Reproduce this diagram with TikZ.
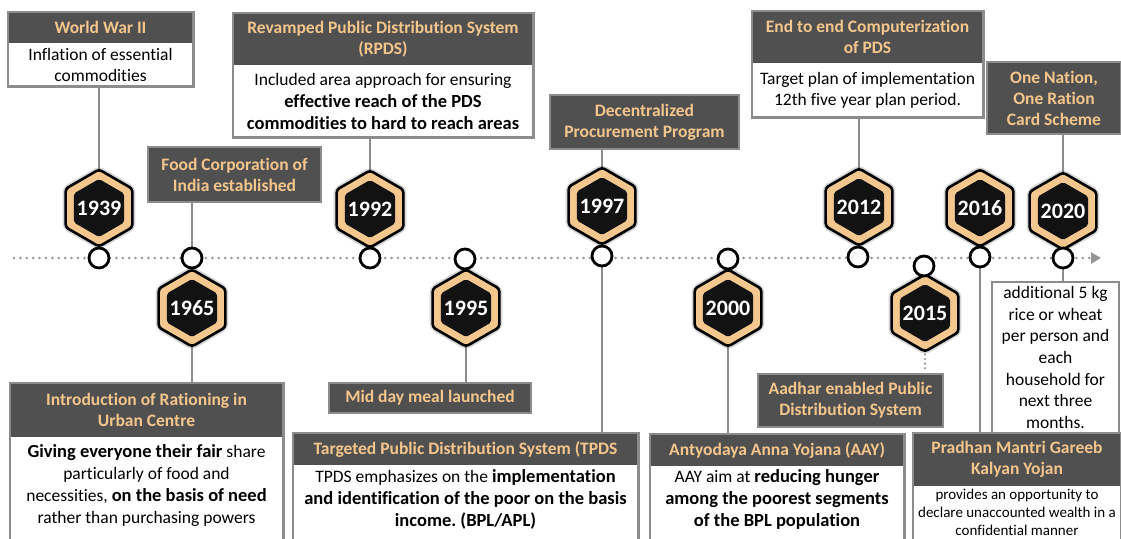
\documentclass[tikz,border=0pt]{standalone}
\usepackage{fontspec}
\setmainfont{Carlito}[Ligatures=NoCommon]
\usetikzlibrary{shapes.geometric,arrows.meta}
\frenchspacing

\definecolor{hdrgray}{HTML}{505050}
\definecolor{sand}{HTML}{F5C68C}
\definecolor{hexfill}{HTML}{F4C78E}
\definecolor{framegray}{HTML}{8C8C8C}
\definecolor{dotgray}{HTML}{969696}

\newcommand\hfont{\fontsize{17.5}{21}\selectfont\bfseries}
\newcommand\bfont{\fontsize{17.5}{21.7}\selectfont}
\newcommand\sfont{\fontsize{15}{17.8}\selectfont}
\newcommand\bld[1]{{\fontsize{18.5}{21.7}\selectfont\bfseries #1}}

\tikzset{
  hdr/.style={fill=hdrgray, text=sand, font=\hfont, align=center, inner sep=0pt},
  tag/.style={hdr, draw=framegray, line width=2.6pt},
  txt/.style={text=black, font=\bfont, align=center, inner sep=0pt},
  frame/.style={draw=framegray, line width=2.6pt},
  conn/.style={draw=framegray, line width=2.6pt},
  dotconn/.style={draw=dotgray, line width=2.4pt, line cap=round, dash pattern=on 0pt off 4.6pt},
  hexsh/.style={regular polygon, regular polygon sides=6, shape border rotate=30,
    minimum size=84pt, inner sep=0pt, fill=black, opacity=0.16, rounded corners=5pt},
  hexout/.style={regular polygon, regular polygon sides=6, shape border rotate=30,
    minimum size=77pt, inner sep=0pt, fill=hexfill, draw=black, line width=2.6pt, rounded corners=3pt},
  hexin/.style={regular polygon, regular polygon sides=6, shape border rotate=30,
    minimum size=58pt, inner sep=0pt, fill=black!93, rounded corners=2pt},
  yeartxt/.style={text=white, font=\fontsize{22}{22}\selectfont\bfseries, inner sep=0pt},
  stop/.style={circle, minimum size=20pt, inner sep=0pt, fill=white, draw=black, line width=2.8pt},
}

% one year badge: shadow, tan hexagon, black core, year label
\newcommand\yearhex[3]{%
  \node[hexsh]  (#1s) at (#2) {};
  \node[hexout] (#1)  at (#2) {};
  \node[hexin]  (#1i) at (#2) {};
  \node[yeartxt] (#1t) at (#2) {#3};
}

\begin{document}
\begin{tikzpicture}[x=1pt,y=-1pt]
\useasboundingbox (0,0) rectangle (1121,538);
\clip (0,0) rectangle (1121,538);
\coordinate (floor) at (0,570);

% positions of hexagons and stops
\coordinate (p1939) at (99,208);   \coordinate (c1939) at (99,258);
\coordinate (p1965) at (192,308);  \coordinate (c1965) at (192,258);
\coordinate (p1992) at (370,209);  \coordinate (c1992) at (370,258);
\coordinate (p1995) at (466,308);  \coordinate (c1995) at (465,259);
\coordinate (p1997) at (602,206);  \coordinate (c1997) at (602,256);
\coordinate (p2000) at (728,308);  \coordinate (c2000) at (728,259);
\coordinate (p2012) at (859,207);  \coordinate (c2012) at (858,257);
\coordinate (p2015) at (925,313);  \coordinate (c2015) at (924,266);
\coordinate (p2016) at (980,208);  \coordinate (c2016) at (980,257);
\coordinate (p2020) at (1063,211); \coordinate (c2020) at (1063,258);

% timeline
\coordinate (tlL) at (14,258);
\coordinate (tlR) at (1101,258);
\draw[dotgray, line width=2.8pt, line cap=round, dash pattern=on 0pt off 6.4pt,
  -{Triangle[length=10pt,width=11pt,fill=dotgray]}] (tlL) -- (tlR);

% ---------- boxes above the line ----------
\node[hdr, minimum width=185pt, minimum height=31pt] (wwH) at (100.5,27.5) {World War II};
\node[txt, minimum width=185pt, minimum height=43pt, anchor=north] (wwB) at (wwH.south)
  {Inflation of essential\\commodities};
\draw[frame] (wwH.north west) rectangle (wwB.south east);

\node[tag, minimum width=173pt, minimum height=55pt] (fci) at (234.5,174.5)
  {Food Corporation of\\India established};

\node[hdr, minimum width=300pt, minimum height=52pt] (rpH) at (383,39)
  {Revamped Public Distribution System\\(RPDS)};
\node[txt, minimum width=300pt, minimum height=72pt, anchor=north] (rpB) at (rpH.south)
  {Included area approach for ensuring\\\bld{effective reach of the PDS}\\\bld{commodities to hard to reach areas}};
\draw[frame] (rpH.north west) rectangle (rpB.south east);

\node[tag, minimum width=189pt, minimum height=54pt] (dpp) at (644.5,122)
  {Decentralized\\Procurement Program};

\node[hdr, minimum width=231pt, minimum height=52pt] (ceH) at (867.5,37)
  {End to end Computerization\\of PDS};
\node[txt, minimum width=231pt, minimum height=54pt, anchor=north] (ceB) at (ceH.south)
  {Target plan of implementation\\12th five year plan period.};
\draw[frame] (ceH.north west) rectangle (ceB.south east);

\node[tag, minimum width=134pt, minimum height=72pt] (onorc) at (1054,98)
  {One Nation,\\One Ration\\Card Scheme};

% ---------- boxes below the line ----------
\node[hdr, minimum width=273pt, minimum height=54pt] (raH) at (146.5,410)
  {Introduction of Rationing in\\Urban Centre};
\node[txt] (raB) at (146.5,485.5)
  {\bld{Giving everyone their fair} share\\particularly of food and\\necessities, \bld{on the basis of need}\\rather than purchasing powers};
\draw[frame] (raH.north west) rectangle (raH.east |- floor);

\node[tag, minimum width=202pt, minimum height=30pt] (mdm) at (430,398) {Mid day meal launched};

\node[hdr, minimum width=345pt, minimum height=32pt] (tpH) at (465.5,449)
  {Targeted Public Distribution System (TPDS};
\node[txt] (tpB) at (465.5,499.5)
  {TPDS emphasizes on the \bld{implementation}\\\bld{and identification of the poor on the basis}\\\bld{income. (BPL/APL)}};
\draw[frame] (tpH.north west) rectangle (tpH.east |- floor);

\node[hdr, minimum width=254pt, minimum height=32pt] (ayH) at (777,450)
  {Antyodaya Anna Yojana (AAY)};
\node[txt] (ayB) at (777,499.5)
  {AAY aim at \bld{reducing hunger}\\\bld{among the poorest segments}\\\bld{of the BPL population}};
\draw[frame] (ayH.north west) rectangle (ayH.east |- floor);

\node[tag, minimum width=185pt, minimum height=53pt] (aepds) at (850.5,400.5)
  {Aadhar enabled Public\\Distribution System};

\node[txt, draw=framegray, line width=2.6pt, minimum width=127pt, minimum height=151pt] (extra) at (1055.5,357.5)
  {additional 5 kg\\rice or wheat\\per person and\\each\\household for\\next three\\months.};

\node[hdr, minimum width=208pt, minimum height=53pt] (pmH) at (1017,459.5)
  {Pradhan Mantri Gareeb\\Kalyan Yojan};
\node[txt, font=\sfont] (pmB) at (1017,512.5)
  {provides an opportunity to\\declare unaccounted wealth in a\\confidential manner};
\draw[frame] (pmH.north west) rectangle (pmH.east |- floor);

% ---------- connectors ----------
\draw[conn] (p1939) -- (p1939 |- wwB.south);
\draw[conn] (c1965) -- (c1965 |- fci.south);
\draw[conn] (p1965) -- (p1965 |- raH.north);
\draw[conn] (p1992) -- (p1992 |- rpB.south);
\draw[conn] (p1995) -- (p1995 |- mdm.north);
\draw[conn] (p1997) -- (p1997 |- dpp.south);
\draw[conn] (c1997) -- (c1997 |- tpH.north);
\draw[conn] (p2000) -- (p2000 |- ayH.north);
\draw[conn] (p2012) -- (p2012 |- ceB.south);
\draw[dotconn] (p2015) -- (p2015 |- aepds.north);
\draw[conn] (c2016) -- (c2016 |- pmH.north);
\draw[conn] (p2020) -- (p2020 |- onorc.south);
\draw[conn] (c2020) -- (c2020 |- extra.north);

% ---------- year badges ----------
\yearhex{h1939}{p1939}{1939}
\yearhex{h1965}{p1965}{1965}
\yearhex{h1992}{p1992}{1992}
\yearhex{h1995}{p1995}{1995}
\yearhex{h1997}{p1997}{1997}
\yearhex{h2000}{p2000}{2000}
\yearhex{h2012}{p2012}{2012}
\yearhex{h2015}{p2015}{2015}
\yearhex{h2016}{p2016}{2016}
\yearhex{h2020}{p2020}{2020}

% ---------- stops on the timeline ----------
\foreach \y in {1939,1965,1992,1995,1997,2000,2012,2015,2016,2020}
  \node[stop] (s\y) at (c\y) {};
\end{tikzpicture}
\end{document}
